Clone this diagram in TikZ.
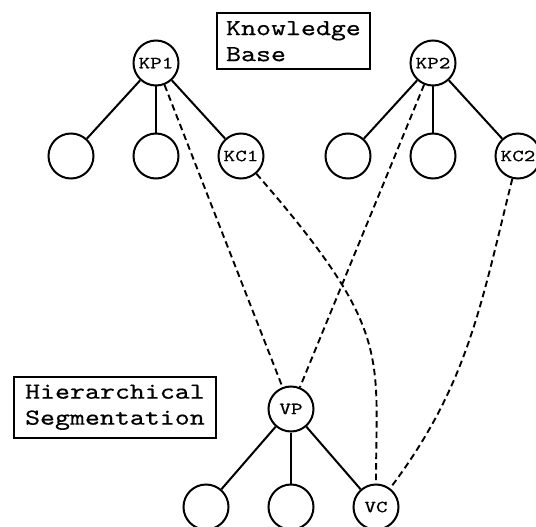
\documentclass[tikz,border=0pt]{standalone}
\usepackage{fontspec}
\newfontfamily\boxfont{lmmono10-regular.otf}[FakeStretch=1.24,FakeBold=0.45]
\newfontfamily\labelfont{lmmono10-regular.otf}[FakeStretch=1.3,FakeBold=0.45]
\begin{document}
\begin{tikzpicture}[x=1pt,y=-1pt,
  vert/.style={circle,draw,line width=2pt,minimum size=45pt,inner sep=0pt,
    font=\fontsize{17}{17}\labelfont},
  tree/.style={line width=2pt},
  link/.style={line width=1.9pt,dash pattern=on 6.5pt off 4pt},
  titlebox/.style={draw,line width=2.2pt,inner xsep=9pt,inner ysep=8pt,
    align=left,font=\fontsize{23}{26}\boxfont}]
\useasboundingbox (0,0) rectangle (536,527);

% knowledge base: two parent concepts with their children
\node[vert] (kp1) at (156,63) {KP1};
\node[vert] (a1) at (71,156) {};
\node[vert] (a2) at (156,156) {};
\node[vert] (kc1) at (241,156) {KC1};

\node[vert] (kp2) at (433,63) {KP2};
\node[vert] (b1) at (348,156) {};
\node[vert] (b2) at (433,156) {};
\node[vert] (kc2) at (518,156) {KC2};

% segmentation tree
\node[vert] (vp) at (291,409) {VP};
\node[vert] (c1) at (206,507) {};
\node[vert] (c2) at (291,507) {};
\node[vert] (vc) at (376,507) {VC};

\foreach \p/\c in {kp1/a1,kp1/a2,kp1/kc1,kp2/b1,kp2/b2,kp2/kc2,vp/c1,vp/c2,vp/vc}
  \draw[tree] (\p) -- (\c);

% labels
\node[titlebox,anchor=north west] (kb) at (216,12) {Knowledge\\Base};
\node[titlebox,anchor=north west,inner xsep=11pt] (hs) at (13,375.5) {Hierarchical\\Segmentation};

% correspondences between the two trees
\draw[link] (kp1) -- (vp);
\draw[link] (kp2) -- (vp);
\draw[link] (kc1) to[out=-49,in=90,out looseness=1.6,in looseness=1.0] (vc.north);
\draw[link] (kc2) to[out=-104,in=53] (vc);
\end{tikzpicture}
\end{document}
